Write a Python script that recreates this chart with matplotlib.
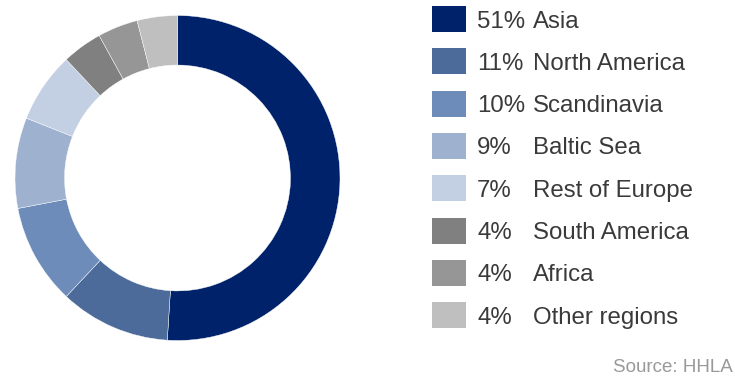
import matplotlib.pyplot as plt
from matplotlib.patches import Rectangle

plt.rcParams['font.family'] = ['Liberation Sans', 'DejaVu Sans']

regions = ["Asia", "North America", "Scandinavia", "Baltic Sea", "Rest of Europe",
           "South America", "Africa", "Other regions"]
shares = [51, 11, 10, 9, 7, 4, 4, 4]
colors = ["#00226A", "#4C6B9A", "#6D8CB9", "#9EB1CF", "#C3CFE2",
          "#808080", "#969696", "#BFBFBF"]

W, H = 735, 377
fig = plt.figure(figsize=(W / 100, H / 100), dpi=100)

# donut: centre (177.5, 178) px, outer radius 162.5 px
cx, cy, r = 177.5, 178, 162.5
ax = fig.add_axes([(cx - r) / W, (H - cy - r) / H, 2 * r / W, 2 * r / H])
ax.pie(shares, colors=colors, startangle=90, counterclock=False,
       wedgeprops=dict(width=0.305, edgecolor='white', linewidth=0.3))
ax.set_xlim(-1, 1)
ax.set_ylim(-1, 1)
ax.set_aspect('equal')
ax.axis('off')

# legend drawn by hand
y0, pitch = 19, 42.3
for i, (name, val, c) in enumerate(zip(regions, shares, colors)):
    yc = y0 + i * pitch
    fig.patches.append(Rectangle((432 / W, (H - yc - 13) / H), 34 / W, 26 / H,
                                 transform=fig.transFigure, facecolor=c,
                                 edgecolor='none'))
    fig.text(477 / W, (H - yc) / H, f"{val}%", fontsize=17.3, color='#3a3a3a',
             va='center_baseline', ha='left')
    fig.text(533 / W, (H - yc) / H, name, fontsize=17.3, color='#3a3a3a',
             va='center_baseline', ha='left')

fig.text(733 / W, (H - 366) / H, "Source: HHLA", fontsize=13.5, color='#999999',
         ha='right', va='center_baseline')

fig.savefig("out.png", dpi=100)
